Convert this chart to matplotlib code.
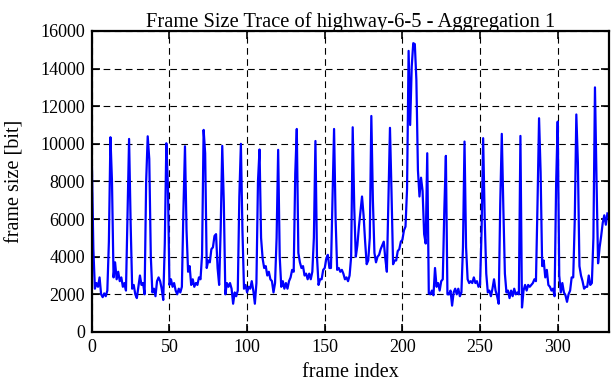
import numpy as np
import matplotlib
matplotlib.use("Agg")
import matplotlib.pyplot as plt

# frame sizes in bit (one row = one GOP of 12 frames)
gop_00_05 = [
    9200, 4400, 2300, 2600, 2400, 2900, 2000, 1850, 2050, 1900, 2200, 4800,
    10350, 8000, 2900, 3700, 2800, 3200, 2700, 2900, 2400, 2600, 2200, 6200,
    10260, 5800, 2300, 2500, 2000, 1800, 2400, 3000, 2500, 2600, 2000, 8000,
    10400, 9200, 4000, 2100, 2300, 1900, 2700, 2900, 2700, 2300, 1700, 4700,
    10030, 7800, 2500, 2800, 2400, 2600, 2200, 2000, 2300, 2100, 2400, 6500,
    9870, 5400, 3200, 3500, 2500, 2800, 2400, 2600, 2500, 2900, 2800, 4100,
]
gop_06_11 = [
    10740, 9500, 3400, 3800, 3700, 4400, 4500, 5100, 5200, 3400, 2500, 5500,
    9890, 6900, 2000, 2600, 2400, 2600, 2300, 1500, 2100, 1900, 2200, 7200,
    10000, 5400, 2300, 2500, 2100, 2400, 2300, 2700, 2200, 1500, 2600, 8000,
    9700, 5000, 3900, 3400, 3500, 3000, 3200, 2800, 2700, 2100, 2600, 5000,
    9680, 4000, 2400, 2700, 2300, 2600, 2300, 2700, 2900, 3300, 3200, 8400,
    10790, 4200, 3700, 3400, 3500, 3000, 3100, 2800, 3100, 2800, 3200, 5000,
]
gop_12_17 = [
    10150, 4000, 2500, 2800, 2800, 3300, 3400, 3900, 4100, 3400, 3400, 7200,
    10790, 6000, 3300, 3400, 3200, 3300, 3100, 2800, 2900, 2700, 3000, 4000,
    10880, 6600, 4000, 4600, 5600, 6400, 7200, 6200, 4800, 3600, 3800, 5000,
    11480, 7000, 4200, 3700, 4000, 4100, 4400, 4600, 4800, 3900, 3200, 6900,
    10850, 7400, 3600, 3800, 3800, 4300, 4400, 4800, 4900, 5400, 5600, 7600,
    14940, 11000, 14100, 15350, 15300, 13400, 8600, 7200, 8200, 7500, 5200, 4700,
]
gop_18_23 = [
    9500, 2050, 2000, 2200, 1950, 3400, 2400, 2600, 2200, 2700, 2800, 6500,
    9360, 2000, 2000, 2200, 1400, 2100, 2300, 2000, 2300, 1900, 2100, 4500,
    10120, 4500, 2800, 2600, 2700, 2600, 2900, 2600, 2700, 2400, 2500, 5400,
    10300, 6000, 3100, 2100, 2200, 1900, 2300, 2800, 2200, 1900, 1500, 6800,
    10530, 6600, 3100, 2100, 2200, 1800, 2200, 1900, 2300, 2000, 2100, 2000,
    10420, 1300, 2200, 2500, 2200, 2500, 2400, 2500, 2600, 2800, 2700, 6800,
]
gop_24_27 = [
    11360, 8500, 3500, 3800, 2900, 3300, 2500, 2400, 2200, 2300, 1900, 7900,
    11180, 3000, 2100, 2600, 2100, 1950, 1600, 2000, 2200, 2900, 2900, 6000,
    11560, 9000, 3500, 3000, 2700, 2300, 2400, 2400, 3000, 2500, 2600, 5000,
    13000, 8100, 3650, 4500, 5100, 5800, 6200, 5700, 6300,
]

frame_bits = gop_00_05 + gop_06_11 + gop_12_17 + gop_18_23 + gop_24_27
frame_idx = np.arange(len(frame_bits))

x_ticks = [0, 50, 100, 150, 200, 250, 300]
y_ticks = [0, 2000, 4000, 6000, 8000, 10000, 12000, 14000, 16000]

plt.rcParams['font.family'] = ['Liberation Serif', 'DejaVu Serif']

fig = plt.figure(figsize=(6.12, 3.82), dpi=100)
ax = fig.add_axes([0.150, 0.131, 0.845, 0.788])

ax.plot(frame_idx, frame_bits, color='#0000ff', linewidth=1.6)

ax.set_xlim(0, 333)
ax.set_ylim(0, 16000)
ax.set_xticks(x_ticks)
ax.set_yticks(y_ticks)
ax.grid(True, color='black', linestyle=(0, (6, 4)), linewidth=0.8)
ax.tick_params(direction='in', top=True, right=True, length=6, width=1.2,
               labelsize=13, pad=5)
for sp in ax.spines.values():
    sp.set_linewidth(1.6)

ax.set_title('Frame Size Trace of highway-6-5 - Aggregation 1', fontsize=14.8, pad=3)
ax.set_xlabel('frame index', fontsize=14.5, labelpad=5)
ax.set_ylabel('frame size [bit]', fontsize=14.5, labelpad=11)

fig.savefig('out.png', dpi=100)
